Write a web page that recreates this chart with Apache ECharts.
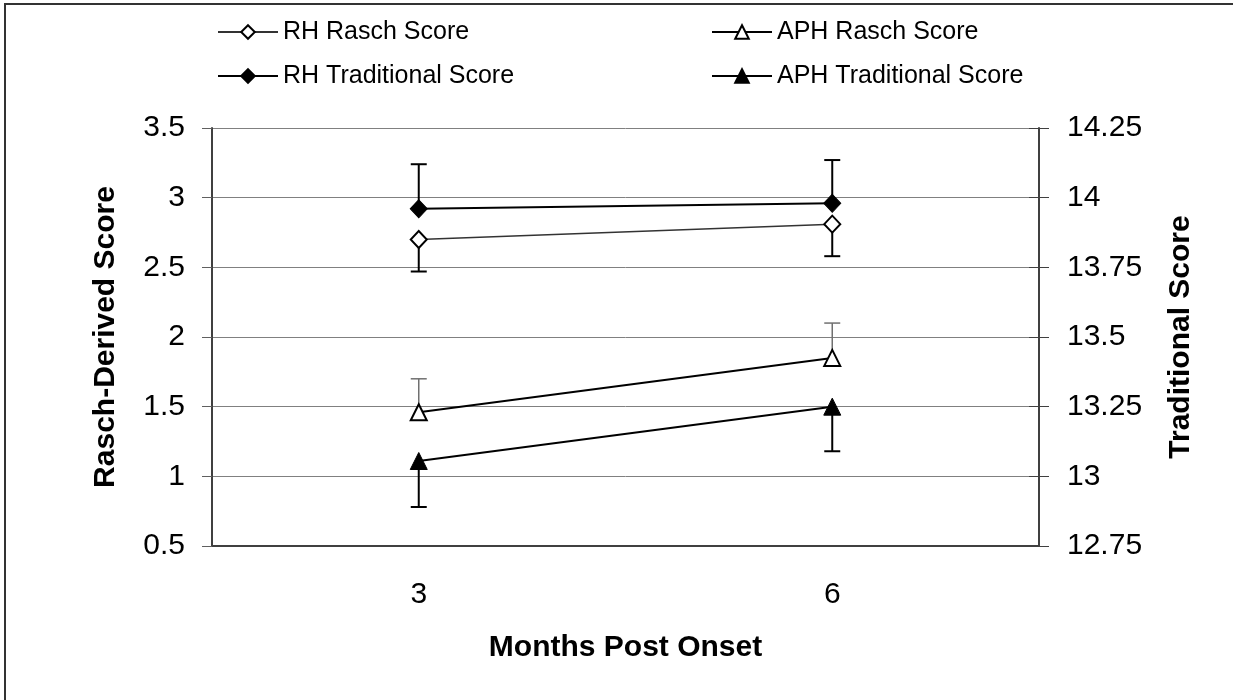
<!DOCTYPE html>
<html>
<head>
<meta charset="utf-8">
<script src="https://cdn.jsdelivr.net/npm/echarts@6/dist/echarts.min.js"></script>
<style>
    html, body { margin: 0; padding: 0; background: #fff; }
    #chart { width: 1233px; height: 700px; }
</style>
</head>
<body>
<div id="chart"></div>
<script>
// categories (months post onset)
var months = ['3', '6']

// Rasch-derived scores (left axis)
var rhRasch = [2.70, 2.81]
var rhRaschErr = [0.23, 0.23]
var aphRasch = [1.46, 1.85]
var aphRaschErr = [0.24, 0.25]

// traditional scores (right axis)
var rhTrad = [13.96, 13.98]
var rhTradErr = [0.16, 0.155]
var aphTrad = [13.055, 13.25]
var aphTradErr = [0.165, 0.16]

var font = 'Liberation Sans, Arial, sans-serif'

// one-sided error bar (dir = 1 up, -1 down)
function errorBars(name, values, errs, dir, axisIdx, color, width) {
    return {
        type: 'custom',
        name: name,
        yAxisIndex: axisIdx,
        silent: true,
        z: 1,
        renderItem: function (params, api) {
            var x = api.value(0)
            var v = api.value(1)
            var e = api.value(2)
            var p0 = api.coord([x, v])
            var p1 = api.coord([x, v + dir * e])
            var st = { stroke: color, lineWidth: width }
            return {
                type: 'group',
                children: [
                    { type: 'line', shape: { x1: p0[0], y1: p0[1], x2: p1[0], y2: p1[1] }, style: st },
                    { type: 'line', shape: { x1: p1[0] - 8, y1: p1[1], x2: p1[0] + 8, y2: p1[1] }, style: st }
                ]
            }
        },
        data: values.map(function (v, i) { return [i, v, errs[i]] })
    }
}

// one legend per entry so each can be placed like the original
function legendItem(name, left, top) {
    return {
        left: left,
        top: top,
        padding: 0,
        itemWidth: 60,
        itemHeight: 17,
        textStyle: { fontSize: 25, lineHeight: 28, color: '#000', fontFamily: font },
        data: [name]
    }
}

var chart = echarts.init(document.getElementById('chart'))
chart.setOption({
    animation: false,
    backgroundColor: '#fff',
    textStyle: { fontFamily: font },
    graphic: [{
        type: 'rect',
        shape: { x: 5, y: 4, width: 1400, height: 900 },
        style: { fill: 'none', stroke: '#333', lineWidth: 2 },
        silent: true
    }],
    legend: [
        legendItem('RH Rasch Score', 217, 18),
        legendItem('RH Traditional Score', 217, 62),
        legendItem('APH Rasch Score', 711, 18),
        legendItem('APH Traditional Score', 711, 62)
    ],
    grid: {
        left: 212,
        right: 194,
        top: 128,
        bottom: 154
    },
    xAxis: {
        type: 'category',
        data: months,
        boundaryGap: true,
        name: 'Months Post Onset',
        nameLocation: 'middle',
        nameGap: 87,
        nameTextStyle: { fontSize: 30, fontWeight: 'bold', color: '#000', fontFamily: font },
        axisLine: { lineStyle: { color: '#404040', width: 2 } },
        axisTick: { length: 12, lineStyle: { color: '#808080', width: 1 } },
        axisLabel: { fontSize: 30, color: '#000', margin: 34, fontFamily: font }
    },
    yAxis: [{
        type: 'value',
        min: 0.5,
        max: 3.5,
        interval: 0.5,
        name: 'Rasch-Derived Score',
        nameLocation: 'middle',
        nameGap: 91,
        nameRotate: 90,
        nameTextStyle: { fontSize: 30, fontWeight: 'bold', color: '#000', fontFamily: font },
        axisLine: { show: true, lineStyle: { color: '#404040', width: 2 } },
        axisTick: { show: true, length: 10, lineStyle: { color: '#606060' } },
        axisLabel: { fontSize: 30, color: '#000', margin: 27, fontFamily: font },
        splitLine: { lineStyle: { color: '#808080', width: 1 } }
    }, {
        type: 'value',
        min: 12.75,
        max: 14.25,
        interval: 0.25,
        position: 'right',
        name: 'Traditional Score',
        nameLocation: 'middle',
        nameGap: 127,
        nameRotate: 90,
        nameTextStyle: { fontSize: 30, fontWeight: 'bold', color: '#000', fontFamily: font },
        axisLine: { show: true, lineStyle: { color: '#404040', width: 2 } },
        axisTick: { show: true, length: 10, lineStyle: { color: '#404040' } },
        axisLabel: { fontSize: 30, color: '#000', margin: 28, fontFamily: font },
        splitLine: { show: false }
    }, {
        // inner half of the cross ticks on the right axis
        type: 'value',
        min: 12.75,
        max: 14.25,
        interval: 0.25,
        position: 'right',
        offset: 0,
        axisLine: { show: false },
        axisTick: { show: true, inside: true, length: 10, lineStyle: { color: '#404040' } },
        axisLabel: { show: false },
        splitLine: { show: false }
    }],
    series: [
        errorBars('rhTradErr', rhTrad, rhTradErr, 1, 1, '#000', 2),
        errorBars('rhRaschErr', rhRasch, rhRaschErr, -1, 0, '#000', 2),
        errorBars('aphRaschErr', aphRasch, aphRaschErr, 1, 0, '#707070', 1.5),
        errorBars('aphTradErr', aphTrad, aphTradErr, -1, 1, '#000', 2),
        {
            name: 'RH Rasch Score',
            type: 'line',
            yAxisIndex: 0,
            data: rhRasch,
            symbol: 'diamond',
            symbolSize: [16, 17],
            lineStyle: { color: '#333', width: 1.5 },
            itemStyle: { color: '#fff', borderColor: '#000', borderWidth: 2 },
            z: 3
        },
        {
            name: 'RH Traditional Score',
            type: 'line',
            yAxisIndex: 1,
            data: rhTrad,
            symbol: 'diamond',
            symbolSize: [17, 18],
            lineStyle: { color: '#000', width: 2 },
            itemStyle: { color: '#000', borderColor: '#000', borderWidth: 1 },
            z: 3
        },
        {
            name: 'APH Rasch Score',
            type: 'line',
            yAxisIndex: 0,
            data: aphRasch,
            symbol: 'triangle',
            symbolSize: [16, 16],
            lineStyle: { color: '#000', width: 2 },
            itemStyle: { color: '#fff', borderColor: '#000', borderWidth: 2 },
            z: 3
        },
        {
            name: 'APH Traditional Score',
            type: 'line',
            yAxisIndex: 1,
            data: aphTrad,
            symbol: 'triangle',
            symbolSize: [17, 17],
            lineStyle: { color: '#000', width: 2 },
            itemStyle: { color: '#000', borderColor: '#000', borderWidth: 1 },
            z: 3
        }
    ]
})
</script>
</body>
</html>
